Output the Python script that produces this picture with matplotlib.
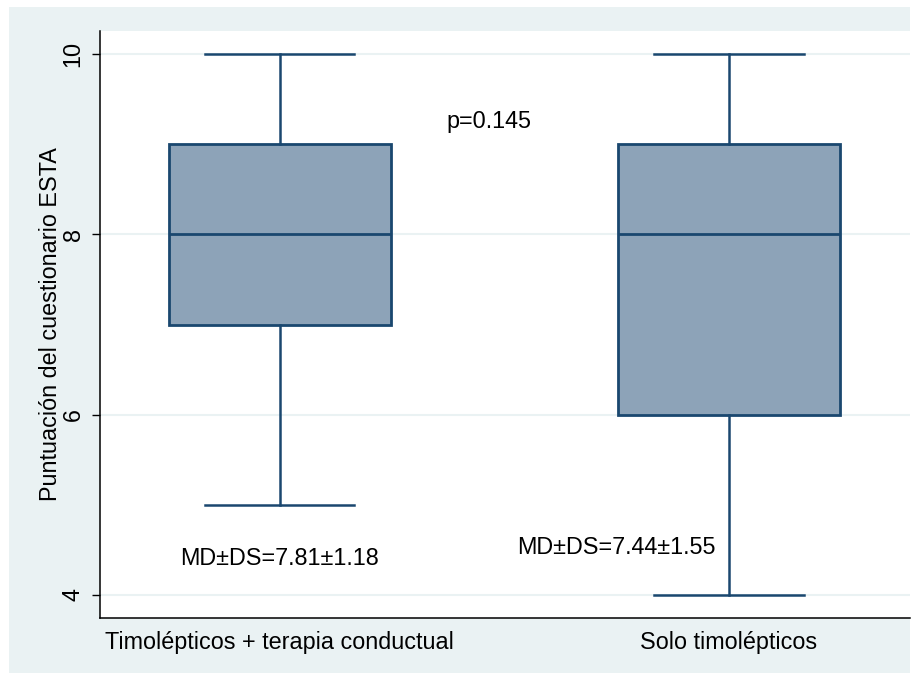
import matplotlib
matplotlib.use("Agg")
import matplotlib.pyplot as plt
from matplotlib.patches import Rectangle

plt.rcParams['font.family'] = ['Liberation Sans', 'DejaVu Sans']

categories = ["Timolépticos + terapia conductual", "Solo timolépticos"]
whislo = [5, 4]
q1 = [7, 6]
med = [8, 8]
q3 = [9, 9]
whishi = [10, 10]
yticks = [4, 6, 8, 10]
annot_md = ["MD±DS=7.81±1.18", "MD±DS=7.44±1.55"]
p_text = "p=0.145"

W, H = 920, 673
fs = 16.8
fig = plt.figure(figsize=(W / 100, H / 100), dpi=100, facecolor="white")
bg = "#EAF2F3"
fig.patches.append(Rectangle((9 / W, 0), (910 - 9) / W, (H - 7) / H,
                             transform=fig.transFigure, facecolor=bg,
                             edgecolor="none", zorder=-10))

ax = fig.add_axes([100 / W, (H - 618) / H, (910 - 100) / W, (618 - 31) / H])
ax.set_facecolor("white")

navy = "#1A476F"
fill = "#8DA3B8"
stats = []
for i in range(len(categories)):
    stats.append(dict(whislo=whislo[i], q1=q1[i], med=med[i], q3=q3[i],
                      whishi=whishi[i], fliers=[], label=categories[i]))
positions = list(range(len(categories)))
ax.bxp(stats, positions=positions, widths=0.494, patch_artist=True,
       showfliers=False,
       boxprops=dict(facecolor=fill, edgecolor=navy, linewidth=2),
       medianprops=dict(color=navy, linewidth=2),
       whiskerprops=dict(color=navy, linewidth=1.8),
       capprops=dict(color=navy, linewidth=1.8),
       capwidths=0.332, zorder=3)

ax.set_xlim(-0.40, 1.403)
ax.set_ylim(3.745, 10.255)
ax.set_yticks(yticks)
ax.set_yticklabels([str(t) for t in yticks], rotation=90, va="center", fontsize=fs)
ax.set_xticks(positions)
ax.set_xticklabels(categories, fontsize=fs)
ax.tick_params(axis="x", length=0, pad=9)
ax.tick_params(axis="y", length=6, width=1, pad=5)
ax.grid(axis="y", color=bg, linewidth=1.5, zorder=0)
ax.set_axisbelow(True)
for s in ["top", "right"]:
    ax.spines[s].set_visible(False)
for s in ["left", "bottom"]:
    ax.spines[s].set_color("black")
    ax.spines[s].set_linewidth(1.1)

ax.set_ylabel("Puntuación del cuestionario ESTA", fontsize=fs, labelpad=0)

ax.text(0.465, 9.25, p_text, ha="center", va="center", fontsize=fs)
ax.text(0.0, 4.41, annot_md[0], ha="center", va="center", fontsize=fs)
ax.text(0.75, 4.53, annot_md[1], ha="center", va="center", fontsize=fs)

fig.savefig("out.png", dpi=100, facecolor="white")
